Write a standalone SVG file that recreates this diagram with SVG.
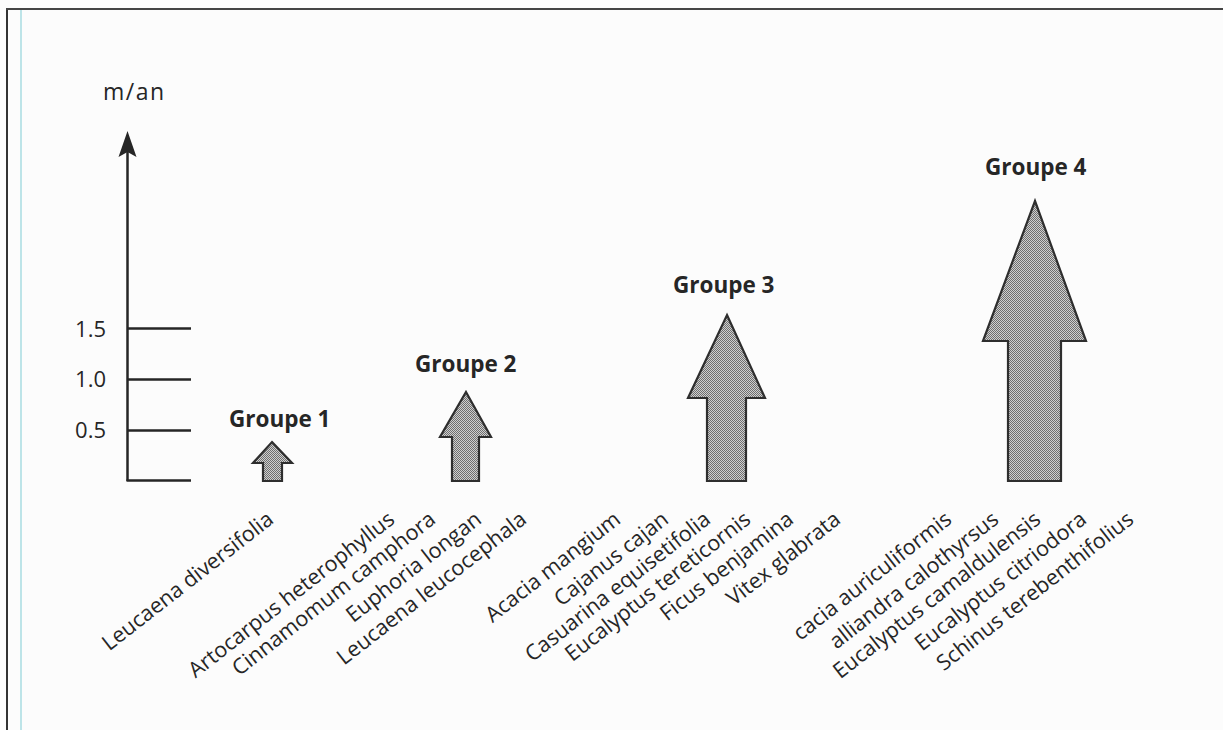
<svg xmlns="http://www.w3.org/2000/svg" width="1223" height="730" viewBox="0 0 1223 730">
<style>
.sp{font-family:"Open Sans","Noto Sans","Liberation Sans",sans-serif;font-size:21.5px;fill:#262626;text-anchor:end}
.grp{font-family:"Open Sans","Noto Sans","Liberation Sans",sans-serif;font-size:22.5px;font-weight:bold;fill:#262626}
.num{font-family:"Open Sans","Noto Sans","Liberation Sans",sans-serif;font-size:22px;fill:#262626;text-anchor:end}
.unit{font-family:"Open Sans","Noto Sans","Liberation Sans",sans-serif;font-size:23px;fill:#262626;letter-spacing:1.5px}
.arr{fill:url(#dots);stroke:#2e2e2e;stroke-width:2.2;stroke-linejoin:miter}
.ax{stroke:#262626;stroke-width:2.5;fill:none}
</style>
<defs>
<pattern id="dots" width="2" height="2" patternUnits="userSpaceOnUse">
<rect width="2" height="2" fill="#cfcfcf"/>
<rect width="1" height="1" fill="#6e6e6e"/>
<rect x="1" y="1" width="1" height="1" fill="#6e6e6e"/>
</pattern>
</defs>
<rect width="1223" height="730" fill="#fcfcfc"/>
<g id="frame">
<line x1="7" y1="9" x2="7" y2="730" stroke="#333" stroke-width="2"/>
<line x1="6" y1="9" x2="1223" y2="9" stroke="#444" stroke-width="2"/>
<line x1="21" y1="10" x2="21" y2="730" stroke="#a9dde2" stroke-width="1.5"/>
</g>
<g id="axis">
<line class="ax" x1="127.5" y1="481" x2="127.5" y2="145"/>
<path d="M127.5,131 L136.5,157 L127.5,152 L118.5,157 Z" fill="#262626"/>
<line class="ax" x1="127" y1="328.5" x2="191" y2="328.5"/>
<line class="ax" x1="127" y1="379.5" x2="191" y2="379.5"/>
<line class="ax" x1="127" y1="430.5" x2="191" y2="430.5"/>
<line class="ax" x1="126.5" y1="480.5" x2="191" y2="480.5"/>
<text class="unit" x="103" y="100">m/an</text>
<text class="num" x="106" y="337">1.5</text>
<text class="num" x="106" y="387">1.0</text>
<text class="num" x="106" y="438">0.5</text>
</g>
<g id="groupe1">
<polygon class="arr" points="272,442 292,463 282,463 282,481 263,481 263,463 253,463"/>
<text class="grp" x="229" y="427">Groupe 1</text>
<text class="sp" transform="translate(275,522) rotate(-38)">Leucaena diversifolia</text>
</g>
<g id="groupe2">
<polygon class="arr" points="466,392 491,437 479,437 479,481 452,481 452,437 440,437"/>
<text class="grp" x="415" y="372">Groupe 2</text>
<text class="sp" transform="translate(396,522) rotate(-38)">Artocarpus heterophyllus</text>
<text class="sp" transform="translate(437,522) rotate(-38)">Cinnamomum camphora</text>
<text class="sp" transform="translate(483,522) rotate(-38)">Euphoria longan</text>
<text class="sp" transform="translate(528,522) rotate(-38)">Leucaena leucocephala</text>
</g>
<g id="groupe3">
<polygon class="arr" points="727,315 765,398 746,398 746,481 707,481 707,398 688,398"/>
<text class="grp" x="673" y="293">Groupe 3</text>
<text class="sp" transform="translate(622,522) rotate(-38)">Acacia mangium</text>
<text class="sp" transform="translate(670,522) rotate(-38)">Cajanus cajan</text>
<text class="sp" transform="translate(712,522) rotate(-38)">Casuarina equisetifolia</text>
<text class="sp" transform="translate(752,522) rotate(-38)">Eucalyptus tereticornis</text>
<text class="sp" transform="translate(795,522) rotate(-38)">Ficus benjamina</text>
<text class="sp" transform="translate(842,522) rotate(-38)">Vitex glabrata</text>
</g>
<g id="groupe4">
<polygon class="arr" points="1035,201 1086,341 1061,341 1061,481 1008,481 1008,341 983,341"/>
<text class="grp" x="985" y="175">Groupe 4</text>
<text class="sp" transform="translate(953,522) rotate(-38)">cacia auriculiformis</text>
<text class="sp" transform="translate(1000,522) rotate(-38)">alliandra calothyrsus</text>
<text class="sp" transform="translate(1042,522) rotate(-38)">Eucalyptus camaldulensis</text>
<text class="sp" transform="translate(1088,522) rotate(-38)">Eucalyptus citriodora</text>
<text class="sp" transform="translate(1135,522) rotate(-38)">Schinus terebenthifolius</text>
</g>
</svg>
